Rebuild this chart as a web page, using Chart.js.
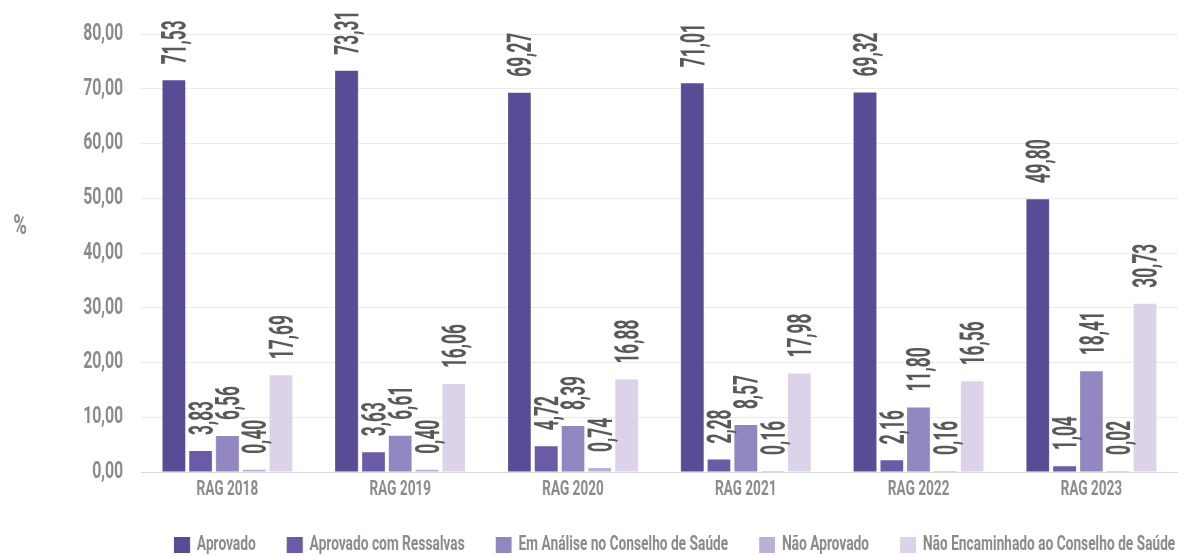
<!DOCTYPE html>
<html>
<head>
<meta charset="utf-8">
<script src="https://cdn.jsdelivr.net/npm/chart.js@4.4.1/dist/chart.umd.min.js"></script>
<style>
  html, body { margin: 0; padding: 0; background: #ffffff; overflow: hidden; width: 1178px; height: 556px; }
  #c { display: block; transform-origin: 0 0; }
</style>
</head>
<body>
<canvas id="c"></canvas>
<script>
const categories = ["RAG 2018", "RAG 2019", "RAG 2020", "RAG 2021", "RAG 2022", "RAG 2023"];
const seriesNames = ["Aprovado", "Aprovado com Ressalvas", "Em Análise no Conselho de Saúde", "Não Aprovado", "Não Encaminhado ao Conselho de Saúde"];
const aprovado = [71.53, 73.31, 69.27, 71.01, 69.32, 49.80];
const aprovadoComRessalvas = [3.83, 3.63, 4.72, 2.28, 2.16, 1.04];
const emAnalise = [6.56, 6.61, 8.39, 8.57, 11.80, 18.41];
const naoAprovado = [0.40, 0.40, 0.74, 0.16, 0.16, 0.02];
const naoEncaminhado = [17.69, 16.06, 16.88, 17.98, 16.56, 30.73];
const yTicks = [0, 10, 20, 30, 40, 50, 60, 70, 80];
const yAxisTitle = "%";

const seriesValues = [aprovado, aprovadoComRessalvas, emAnalise, naoAprovado, naoEncaminhado];
const colors = ["#5a4b97", "#6b5aa6", "#9287c1", "#bcafd8", "#dcd3ea"];
const FONT = 'Roboto, "Liberation Sans", sans-serif';
const fmt = v => v.toFixed(2).replace('.', ',');

// horizontal condensing factor (the reference uses a condensed typeface)
const S = 0.68;
const W = 1178, H = 556;
const cv = document.getElementById('c');
cv.width = Math.round(W / S);
cv.height = H;
cv.style.transform = 'scaleX(' + S + ')';

const LEGEND_FONT = 20.2;
const LEGEND_PAD = 31 / S;
const legendHeight = Math.max(16, LEGEND_FONT) + LEGEND_PAD + 10;

const valueLabels = {
  id: 'valueLabels',
  afterLayout(chart) {
    // legend placement: first swatch at x=174, row centred at y=545
    const lg = chart.legend;
    const w = lg.right - lg.left;
    lg.left = 174 / S - LEGEND_PAD;
    lg.right = lg.left + w;
    const itemCenter = lg.top + LEGEND_PAD + Math.max(16, LEGEND_FONT) / 2;
    const dy = 545 - itemCenter;
    lg.top += dy;
    lg.bottom += dy;
    // let the category labels use the room below the axis
    const xs = chart.scales.x;
    xs.bottom = xs.top + 30;
  },
  afterDatasetsDraw(chart) {
    const ctx = chart.ctx;
    ctx.save();
    ctx.fillStyle = '#595959';
    const size = 34;
    ctx.font = 'bold ' + size + 'px ' + FONT;
    ctx.textAlign = 'left';
    ctx.textBaseline = 'alphabetic';
    const cap = size * 0.711;
    const sy = (24 / S) / cap;
    const sx = 44 / ctx.measureText('71,53').width;
    chart.data.datasets.forEach((ds, di) => {
      const meta = chart.getDatasetMeta(di);
      meta.data.forEach((bar, i) => {
        ctx.save();
        ctx.translate(bar.x, bar.y - 16);
        ctx.rotate(-Math.PI / 2);
        ctx.scale(sx, sy);
        ctx.fillText(fmt(ds.data[i]), 0, cap / 2);
        ctx.restore();
      });
    });
    ctx.font = 'bold 27px ' + FONT;
    ctx.fillStyle = '#8a8a8a';
    ctx.textAlign = 'center';
    ctx.textBaseline = 'middle';
    ctx.fillText(yAxisTitle, 20 / S, 227);
    ctx.restore();
  }
};

new Chart(cv, {
  type: 'bar',
  data: {
    labels: categories,
    datasets: seriesNames.map((name, k) => ({
      label: name,
      data: seriesValues[k],
      backgroundColor: colors[k],
      borderWidth: 0,
      minBarLength: 1,
      categoryPercentage: 0.775,
      barPercentage: 0.85
    }))
  },
  options: {
    responsive: false,
    maintainAspectRatio: false,
    devicePixelRatio: 1,
    animation: false,
    layout: { padding: { top: 34, right: -8 / S, left: 0, bottom: 0 } },
    plugins: {
      legend: {
        position: 'bottom',
        align: 'start',
        labels: {
          boxWidth: 16 / S,
          boxHeight: 16,
          padding: LEGEND_PAD,
          color: '#8a8a8a',
          font: { family: FONT, size: LEGEND_FONT, weight: 'bold' }
        }
      },
      tooltip: { enabled: false }
    },
    scales: {
      x: {
        afterFit: s => { s.height = Math.max(0, (H - 472) - legendHeight); },
        grid: { display: false, drawTicks: false },
        border: { display: true, color: '#d9d9d9', width: 1 },
        ticks: { color: '#8a8a8a', padding: 6, font: { family: FONT, size: 20, weight: 'bold' } }
      },
      y: {
        min: 0,
        max: 80,
        afterBuildTicks: s => { s.ticks = yTicks.map(v => ({ value: v })); },
        afterFit: s => { s.width = 141 / S; s.paddingTop = 0; s.paddingBottom = 0; },
        grid: { color: '#ebebeb', drawTicks: false },
        border: { display: false },
        ticks: {
          color: '#8a8a8a',
          padding: 18 / S,
          font: { family: FONT, size: 23, weight: 'bold' },
          callback: v => fmt(v)
        }
      }
    }
  },
  plugins: [valueLabels]
});
</script>
</body>
</html>
